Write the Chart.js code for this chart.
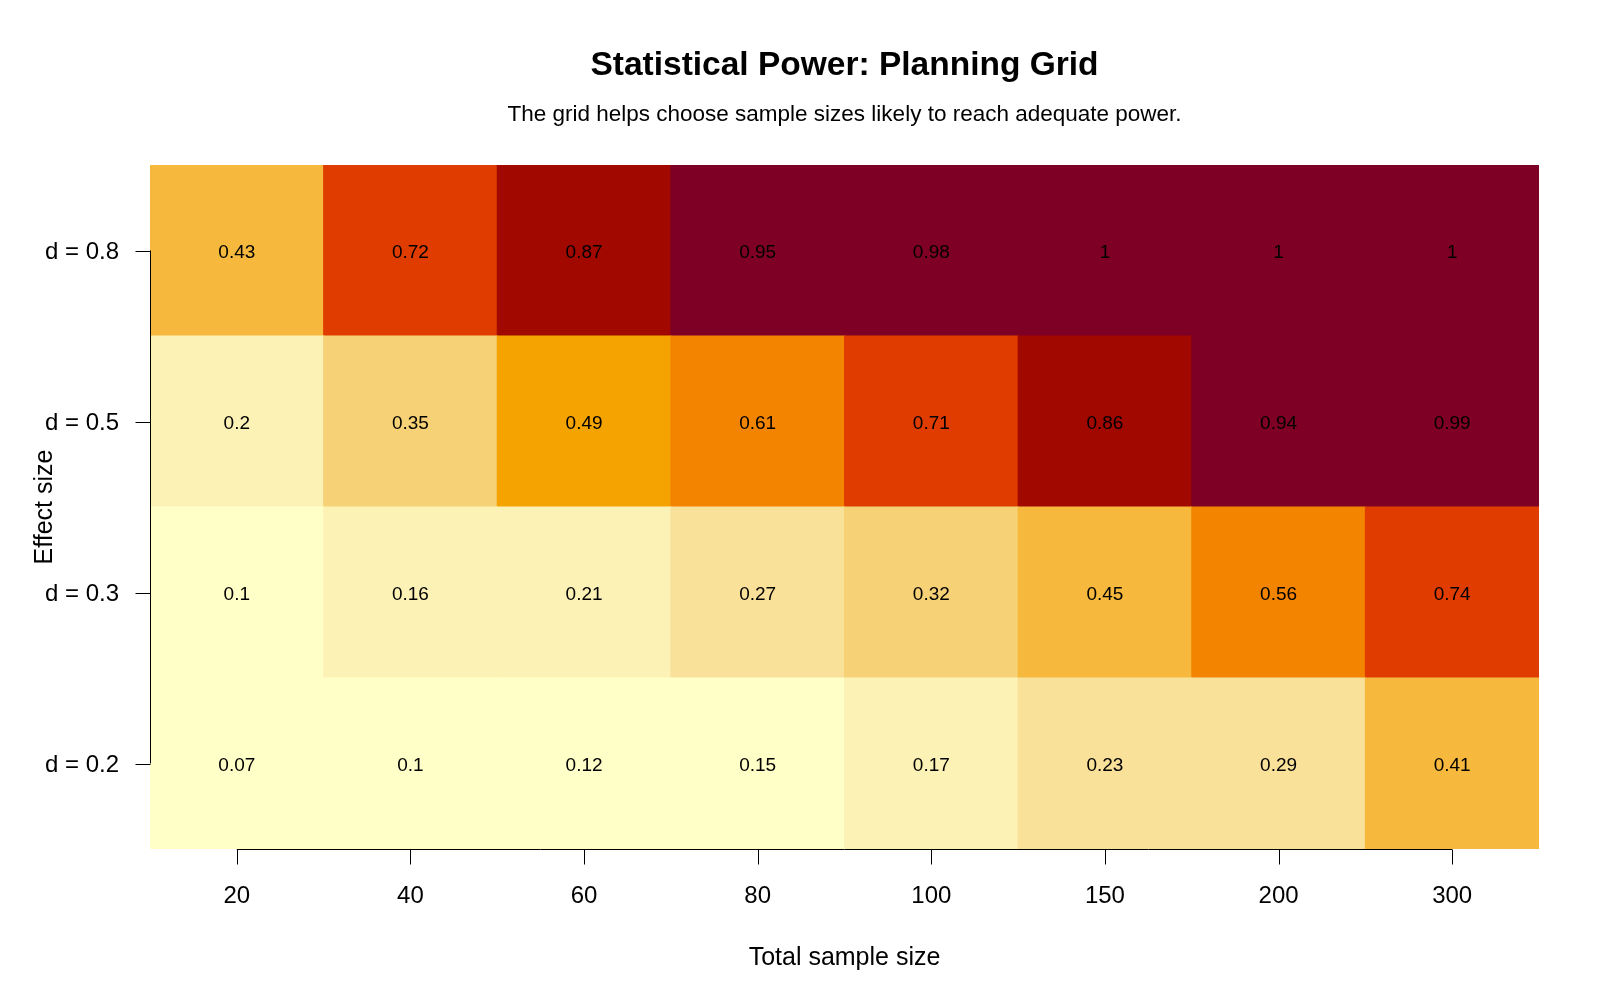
<!DOCTYPE html>
<html>
<head>
<meta charset="utf-8">
<title>Statistical Power: Planning Grid</title>
<script src="https://cdn.jsdelivr.net/npm/chart.js@4.4.1/dist/chart.umd.min.js"></script>
<style>
    body { margin: 0; background: #ffffff; }
    #powerChart { display: block; }
</style>
</head>
<body>
<canvas id="powerChart" width="1600" height="1000"></canvas>
<script>
// data
const sampleSizes = ['20', '40', '60', '80', '100', '150', '200', '300'];
const effectSizes = ['d = 0.2', 'd = 0.3', 'd = 0.5', 'd = 0.8'];
const powerD02 = [0.07, 0.1, 0.12, 0.15, 0.17, 0.23, 0.29, 0.41];
const powerD03 = [0.1, 0.16, 0.21, 0.27, 0.32, 0.45, 0.56, 0.74];
const powerD05 = [0.2, 0.35, 0.49, 0.61, 0.71, 0.86, 0.94, 0.99];
const powerD08 = [0.43, 0.72, 0.87, 0.95, 0.98, 1, 1, 1];
const powerRows = [powerD02, powerD03, powerD05, powerD08];

// colour scale (YlOrRd, light to dark)
const palette = ['#FFFFC8', '#FDF2B6', '#FAE19A', '#F6D176', '#F6B93E',
                 '#F5A300', '#F28400', '#E03C00', '#A10800', '#7E0025'];
const breaks = [0.155, 0.22, 0.3, 0.38, 0.47, 0.53, 0.65, 0.8, 0.9];

function powerColor(v) {
    let i = 0;
    while (i < breaks.length && v >= breaks[i]) i++;
    return palette[i];
}

const FONT = "'Liberation Sans', Arial, Helvetica, sans-serif";

document.addEventListener('DOMContentLoaded', () => {
    const ctx = document.getElementById('powerChart').getContext('2d');

    // one dataset per effect size row, each cell a floating bar [row, row + 1]
    const datasets = powerRows.map((row, r) => ({
        label: effectSizes[r],
        data: row.map(() => [r, r + 1]),
        power: row,
        backgroundColor: row.map(powerColor),
        borderWidth: 0,
        inflateAmount: 0.5,
        barPercentage: 1.0,
        categoryPercentage: 1.0
    }));

    // titles, R-style axes and cell labels
    const decorations = {
        id: 'decorations',
        afterDatasetsDraw(chart) {
            const c = chart.ctx;
            c.save();
            c.fillStyle = '#000';
            c.textAlign = 'center';
            c.textBaseline = 'middle';
            c.font = '19px ' + FONT;
            chart.data.datasets.forEach((ds, i) => {
                chart.getDatasetMeta(i).data.forEach((bar, j) => {
                    const mid = (bar.y + bar.base) / 2;
                    c.fillText(String(ds.power[j]), bar.x, mid + 2);
                });
            });
            c.restore();
        },
        afterDraw(chart) {
            const c = chart.ctx;
            const area = chart.chartArea;
            const xs = chart.scales.x;
            const ys = chart.scales.y;
            c.save();
            c.strokeStyle = '#000';
            c.lineWidth = 1;

            // x axis
            const x0 = xs.getPixelForValue(0);
            const x1 = xs.getPixelForValue(sampleSizes.length - 1);
            const yb = Math.round(area.bottom) + 0.5;
            c.beginPath();
            c.moveTo(x0, yb);
            c.lineTo(x1, yb);
            sampleSizes.forEach((_, i) => {
                const px = Math.round(xs.getPixelForValue(i)) + 0.5;
                c.moveTo(px, yb);
                c.lineTo(px, yb + 15);
            });
            c.stroke();

            // y axis
            const xl = Math.round(area.left) + 0.5;
            const yTop = ys.getPixelForValue(effectSizes.length - 0.5);
            const yBot = ys.getPixelForValue(0.5);
            c.beginPath();
            c.moveTo(xl, yTop);
            c.lineTo(xl, yBot);
            effectSizes.forEach((_, i) => {
                const py = Math.round(ys.getPixelForValue(i + 0.5)) + 0.5;
                c.moveTo(xl, py);
                c.lineTo(xl - 15, py);
            });
            c.stroke();

            // titles
            const cx = (area.left + area.right) / 2;
            c.fillStyle = '#000';
            c.textAlign = 'center';
            c.textBaseline = 'middle';
            c.font = 'bold 33.5px ' + FONT;
            c.fillText('Statistical Power: Planning Grid', cx, 66);
            c.font = '22.5px ' + FONT;
            c.fillText('The grid helps choose sample sizes likely to reach adequate power.', cx, 115);
            c.restore();
        }
    };

    new Chart(ctx, {
        type: 'bar',
        data: {
            labels: sampleSizes,
            datasets: datasets
        },
        options: {
            responsive: false,
            animation: false,
            layout: {
                padding: { top: 165, right: 61, bottom: 0, left: 0 }
            },
            scales: {
                x: {
                    type: 'category',
                    stacked: true,
                    grid: { display: false, drawTicks: false },
                    border: { display: false },
                    ticks: {
                        color: '#000',
                        font: { family: FONT, size: 24 },
                        padding: 33,
                        maxRotation: 0
                    },
                    title: {
                        display: true,
                        text: 'Total sample size',
                        color: '#000',
                        font: { family: FONT, size: 25 },
                        padding: { top: 0, bottom: 27 }
                    },
                    afterFit(scale) { scale.height = 151; }
                },
                y: {
                    type: 'linear',
                    min: 0,
                    max: effectSizes.length,
                    grid: { display: false, drawTicks: false },
                    border: { display: false },
                    afterBuildTicks(scale) {
                        scale.ticks = effectSizes.map((_, i) => ({ value: i + 0.5 }));
                    },
                    ticks: {
                        color: '#000',
                        font: { family: FONT, size: 24 },
                        padding: 31,
                        labelOffset: 2,
                        callback: (value) => effectSizes[Math.floor(value)]
                    },
                    title: {
                        display: true,
                        text: 'Effect size',
                        color: '#000',
                        font: { family: FONT, size: 25 },
                        padding: { top: 30, bottom: 0 }
                    },
                    afterFit(scale) { scale.width = 150; }
                }
            },
            plugins: {
                legend: { display: false },
                tooltip: { enabled: false }
            }
        },
        plugins: [decorations]
    });
});
</script>
</body>
</html>
